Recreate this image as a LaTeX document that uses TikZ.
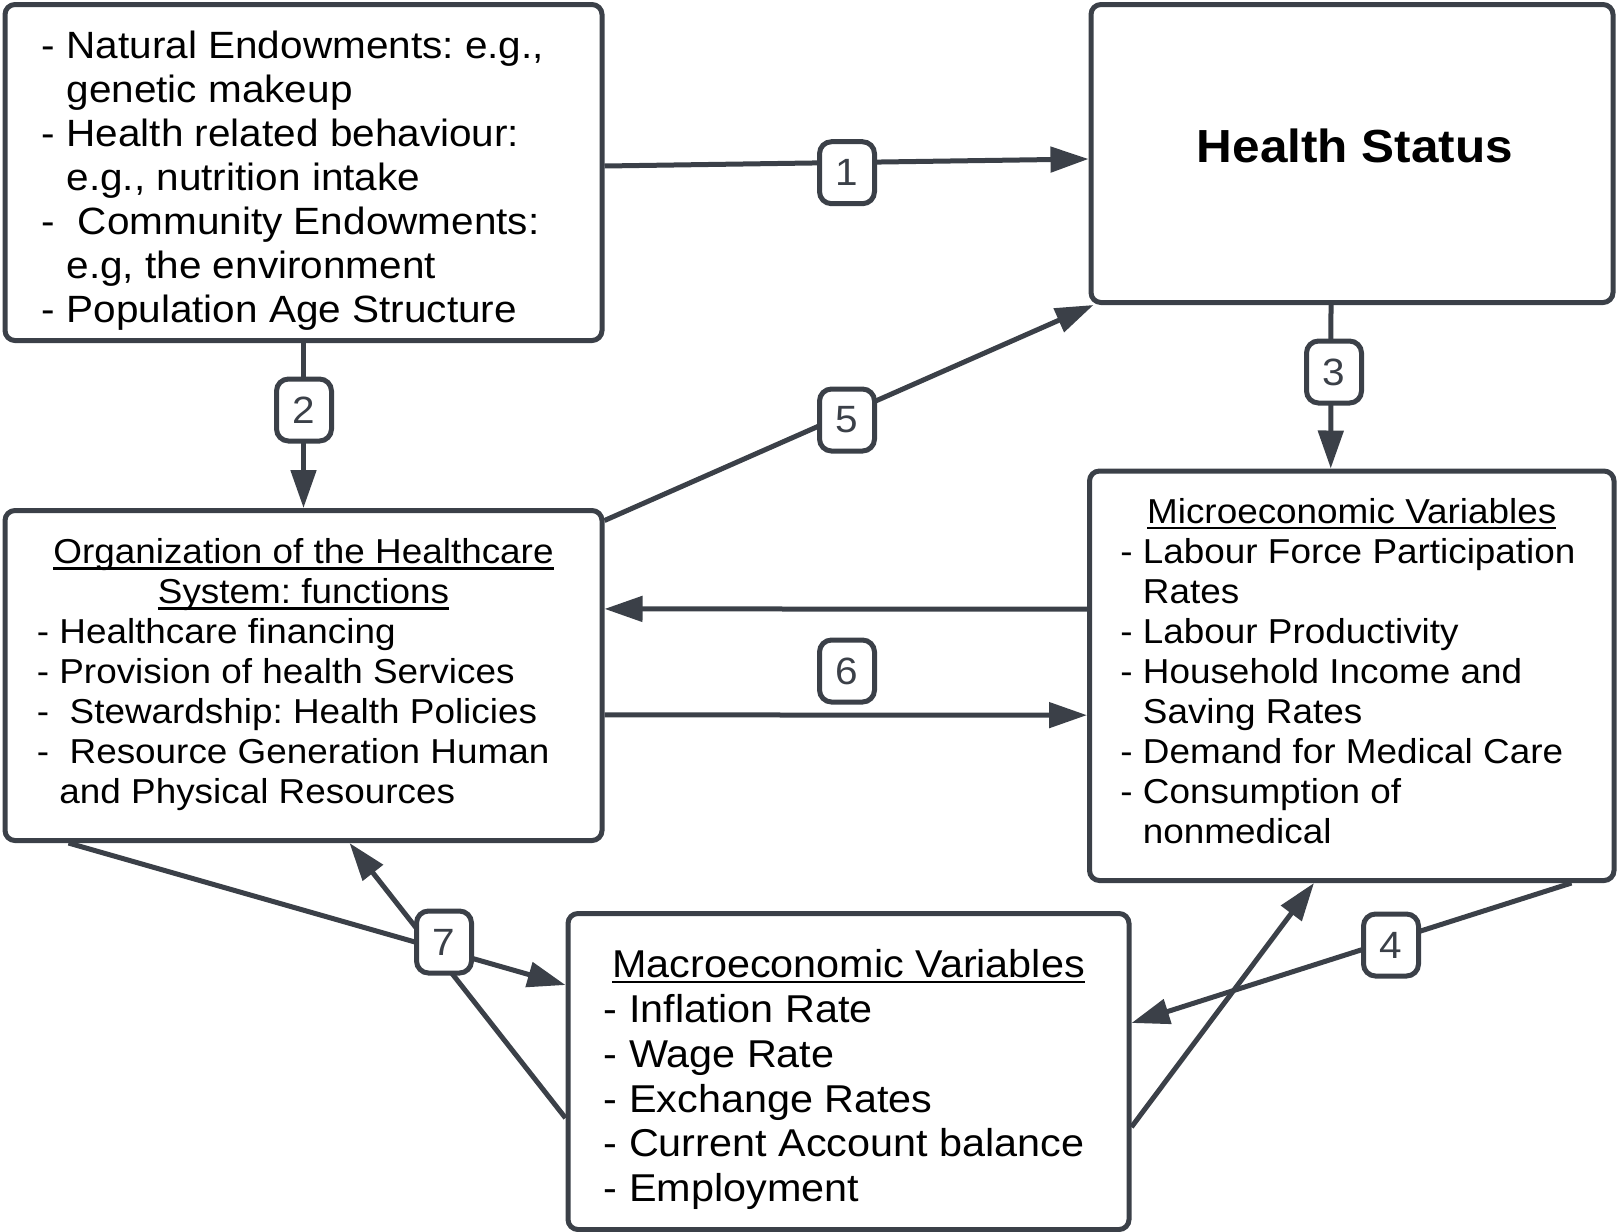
\documentclass[tikz,border=0pt]{standalone}
\usepackage{fontspec}
\setmainfont{Liberation Sans}[FakeStretch=1.066]
\usepackage{tikz}
\usetikzlibrary{arrows.meta,calc}
\definecolor{slate}{HTML}{3B4048}
\newcommand{\undl}[1]{\setbox0\hbox{#1}\rlap{\rule[-3.1pt]{\wd0}{1.2pt}}\box0}
\frenchspacing

\begin{document}
\begin{tikzpicture}[x=0.5pt,y=-0.5pt,
   box/.style={draw=slate,line width=2.5pt,rounded corners=5pt,inner sep=0pt},
   num/.style={draw=slate,fill=white,line width=2.5pt,rounded corners=6pt,minimum width=27.5pt,minimum height=31pt,inner sep=0pt,text=slate,font=\fontsize{19}{19}\selectfont},
   link/.style={draw=slate,line width=2.5pt,-{Triangle[length=19pt,width=12.5pt]}},
   big/.style={inner sep=0pt,align=left,font=\fontsize{19}{22}\selectfont},
   small/.style={inner sep=0pt,align=left,font=\fontsize{17.3}{20}\selectfont}]
   \useasboundingbox (0,0) rectangle (1618,1232);
   % boxes
   \node[box,minimum width=298.5pt,minimum height=168pt] (natural) at (303.5,172.5) {};
   \node[box,minimum width=261pt,minimum height=149pt] (health) at (1352,153.5) {};
   \node[box,minimum width=298.5pt,minimum height=165pt] (system) at (303.5,675.5) {};
   \node[box,minimum width=262.25pt,minimum height=204.75pt] (micro) at (1351.75,675.75) {};
   \node[box,minimum width=280.5pt,minimum height=158pt] (macro) at (848.5,1071.5) {};
   % texts (base = last line)
   \node[big,anchor=base west] (natural list) at (41.5,322) {- Natural Endowments: e.g.,\\ \phantom{-\ }genetic makeup\\ - Health related behaviour:\\ \phantom{-\ }e.g., nutrition intake\\ -\ \ Community Endowments:\\ \phantom{-\ }e.g, the environment\\ - Population Age Structure};
   \node[inner sep=0pt,anchor=base,font=\fontsize{23.2}{26}\selectfont\bfseries] (health title) at (1355,162) {Health Status};
   \node[small,align=center,anchor=base] (system title) at (303.5,603.3) {\undl{Organization of the Healthcare}\\ \undl{System: functions}};
   \node[small,anchor=base west] (system list) at (36.5,803.3) {- Healthcare financing\\ - Provision of health Services\\ -\ \ Stewardship: Health Policies\\ -\ \ Resource Generation Human\\ \phantom{-\ }and Physical Resources};
   \node[small,anchor=base] (micro title) at (1351.75,523) {\undl{Microeconomic Variables}};
   \node[small,anchor=base west] (micro list) at (1120,843.5) {- Labour Force Participation\\ \phantom{-\ }Rates\\ - Labour Productivity\\ - Household Income and\\ \phantom{-\ }Saving Rates\\ - Demand for Medical Care\\ - Consumption of\\ \phantom{-\ }nonmedical};
   \node[inner sep=0pt,anchor=base,font=\fontsize{19.4}{21.5}\selectfont] (macro title) at (848.5,977) {\undl{Macroeconomic Variables}};
   \node[inner sep=0pt,align=left,anchor=base west,font=\fontsize{19.4}{22.35}\selectfont] (macro list) at (603.5,1201.6) {- Inflation Rate\\ - Wage Rate\\ - Exchange Rates\\ - Current Account balance\\ - Employment};
   % connectors
   \draw[link] ($(natural.east)+(0,-6.5)$) -- ($(health.west)+(0,5.5)$);
   \draw[link] (natural.south) -- (system.north);
   \draw[link] ($(health.south)+(-21,0)$) -- ($(micro.north)+(-21,0)$);
   \draw[link] ($(micro.south east)+(-45,0)$) -- ($(macro.east)+(0,-48.5)$);
   \draw[link] ($(macro.east)+(0,55.5)$) -- ($(micro.south west)+(227,0)$);
   \draw[link] ($(system.north east)+(0,12.5)$) -- ($(health.south west)+(5,0)$);
   \draw[link] ($(micro.west)+(0,-66.6)$) -- ($(system.east)+(0,-66.6)$);
   \draw[link] ($(system.east)+(0,39.4)$) -- ($(micro.west)+(0,39.4)$);
   \draw[link] ($(system.south west)+(66,0)$) -- ($(macro.west)+(0,-86.5)$);
   \draw[link] ($(macro.west)+(0,46.5)$) -- ($(system.south west)+(347,0)$);
   % numbers
   \node[num] (n1) at (847,172.7) {1};
   \node[num] (n2) at (304,410) {2};
   \node[num] (n3) at (1334,372) {3};
   \node[num] (n4) at (1391,945) {4};
   \node[num] (n5) at (847,420) {5};
   \node[num] (n6) at (847,671) {6};
   \node[num] (n7) at (444,942) {7};
\end{tikzpicture}
\end{document}
